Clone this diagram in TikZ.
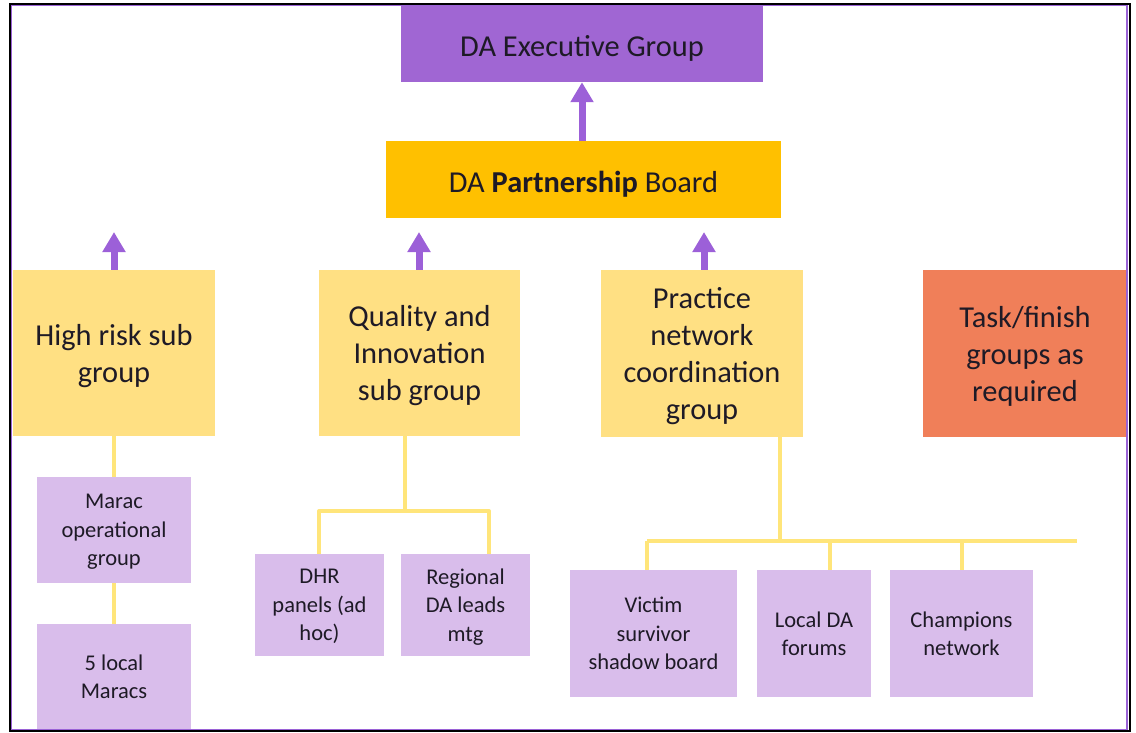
\documentclass[tikz,border=0pt]{standalone}
\usepackage{fontspec}
\setmainfont{Carlito}
\usetikzlibrary{arrows.meta}
\definecolor{execpurple}{HTML}{A066D3}
\definecolor{arrowpurple}{HTML}{9C60D8}
\definecolor{boardgold}{HTML}{FFC000}
\definecolor{subyellow}{HTML}{FFE083}
\definecolor{taskorange}{HTML}{F07F59}
\definecolor{lavender}{HTML}{D9BDEB}
\definecolor{connyellow}{HTML}{FFE57A}
\definecolor{txt}{HTML}{1E1A26}
\definecolor{framepurple}{HTML}{9A62D6}
\begin{document}
\begin{tikzpicture}[x=1pt,y=-1pt,
  box/.style={rectangle, inner sep=0pt, align=center, text=txt, text depth=0pt,
    execute at begin node={\rule{0pt}{0.85em}}},
  big/.style={box, font=\fontsize{30.4}{37}\selectfont},
  small/.style={box, font=\fontsize{22.5}{28.5}\selectfont},
  conn/.style={draw=connyellow, line width=4pt},
  up/.style={draw=arrowpurple, line width=7pt, -{Triangle[width=22pt,length=20pt]}}]
\useasboundingbox (0,0) rectangle (1136,732);
% top level
\node[big, fill=execpurple, minimum width=362pt, minimum height=76pt] (exec) at (582,44) {DA Executive Group};
\node[big, fill=boardgold, minimum width=395pt, minimum height=77pt] (board) at (583.5,179.5) {DA \textbf{Partnership} Board};
% sub groups
\node[big, fill=subyellow, minimum width=202pt, minimum height=166pt] (hr) at (114,353) {High risk sub\\group};
\node[big, fill=subyellow, minimum width=201pt, minimum height=166pt] (qi) at (419.5,353) {Quality and\\Innovation\\sub group};
\node[big, fill=subyellow, minimum width=202pt, minimum height=167pt] (pn) at (702,353.5) {Practice\\network\\coordination\\group};
\node[big, fill=taskorange, minimum width=204pt, minimum height=167pt] (task) at (1025,353.5) {Task/finish\\groups as\\required};
% lower boxes
\node[small, fill=lavender, minimum width=154pt, minimum height=106pt] (marac) at (114,530) {Marac\\operational\\group};
\node[small, fill=lavender, minimum width=154pt, minimum height=105pt] (local) at (114,676.5) {5 local\\Maracs};
\node[small, fill=lavender, minimum width=129pt, minimum height=102pt] (dhr) at (319.5,605) {DHR\\panels (ad\\hoc)};
\node[small, fill=lavender, minimum width=129pt, minimum height=102pt] (reg) at (465.5,605) {Regional\\DA leads\\mtg};
\node[small, fill=lavender, minimum width=167pt, minimum height=127pt] (victim) at (653.5,633.5) {Victim\\survivor\\shadow board};
\node[small, fill=lavender, minimum width=114pt, minimum height=127pt] (forums) at (814,633.5) {Local DA\\forums};
\node[small, fill=lavender, minimum width=143pt, minimum height=127pt] (champ) at (961.5,633.5) {Champions\\network};
% arrows
\coordinate (hrup) at (114,232);
\coordinate (qiup) at (419,232);
\coordinate (pnup) at (704,232);
\draw[up] (board.north -| exec.south) -- (exec.south);
\draw[up] (hr.north) -- (hrup);
\draw[up] (qi.north -| qiup) -- (qiup);
\draw[up] (pn.north -| pnup) -- (pnup);
% connectors
\draw[conn] (hr.south) -- (marac.north);
\draw[conn] (marac.south) -- (local.north);
\coordinate (qj) at (405,511);
\coordinate (qjl) at (319,511);
\coordinate (qjr) at (489,511);
\draw[conn] (qi.south -| qj) -- (qj);
\draw[conn, line cap=round] (qjl) -- (qjr);
\draw[conn] (qjl) -- (dhr.north -| qjl);
\draw[conn] (qjr) -- (reg.north -| qjr);
\coordinate (pj) at (780,541);
\coordinate (pjl) at (647,541);
\coordinate (pjr) at (1077,541);
\coordinate (pjf) at (830,541);
\coordinate (pjc) at (962,541);
\draw[conn] (pn.south -| pj) -- (pj);
\draw[conn] (pjl) -- (pjr);
\draw[conn] (pjl) -- (victim.north -| pjl);
\draw[conn] (pjf) -- (forums.north -| pjf);
\draw[conn] (pjc) -- (champ.north -| pjc);
% frame
\draw[black, line width=2pt] (9.5,3.5) rectangle (1129.5,731);
\draw[framepurple, line width=1.5pt] (11.5,5.5) rectangle (1127,729.5);
\end{tikzpicture}
\end{document}
